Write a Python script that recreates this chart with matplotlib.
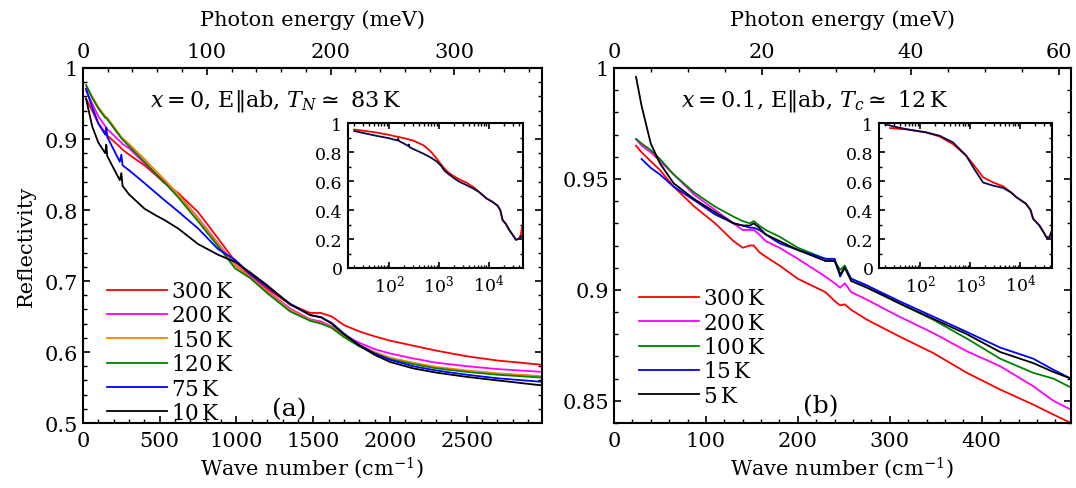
import matplotlib
matplotlib.use('Agg')
import matplotlib.pyplot as plt
from matplotlib.ticker import (MultipleLocator, FixedLocator, FuncFormatter,
                               LogLocator, NullFormatter)
import numpy as np

plt.rcParams.update({
    'font.family': 'DejaVu Serif',
    'mathtext.fontset': 'dejavuserif',
    'font.size': 15,
    'axes.linewidth': 1.5,
    'xtick.direction': 'in',
    'ytick.direction': 'in',
    'xtick.major.size': 5,
    'ytick.major.size': 5,
    'xtick.minor.size': 2.8,
    'ytick.minor.size': 2.8,
    'xtick.major.width': 1.2,
    'ytick.major.width': 1.2,
    'xtick.minor.width': 1.0,
    'ytick.minor.width': 1.0,
})

MEV = 8.0655  # cm^-1 per meV

# ---------------- panel (a): x = 0 ----------------
wn_a = [20, 60, 100, 145, 152, 158, 240, 250, 258, 300, 400, 470, 530, 620, 750,
        880, 990, 1090, 1200, 1350, 1480, 1550, 1620, 1700, 1800, 1900, 2000,
        2150, 2300, 2500, 2700, 2990]
r300_a = [0.957, 0.940, 0.922, 0.909, 0.907, 0.905, 0.889, 0.887, 0.885, 0.878,
          0.863, 0.850, 0.838, 0.824, 0.797, 0.760, 0.728, 0.708, 0.689, 0.667,
          0.655, 0.655, 0.650, 0.638, 0.629, 0.622, 0.616, 0.609, 0.602, 0.594,
          0.588, 0.582]
r200_a = [0.968, 0.950, 0.932, 0.918, 0.916, 0.914, 0.897, 0.895, 0.893, 0.887,
          0.866, 0.852, 0.840, 0.822, 0.789, 0.753, 0.723, 0.706, 0.686, 0.661,
          0.646, 0.643, 0.636, 0.624, 0.613, 0.604, 0.598, 0.591, 0.585, 0.580,
          0.576, 0.572]
r150_a = [0.976, 0.960, 0.945, 0.932, 0.931, 0.930, 0.906, 0.903, 0.901, 0.893,
          0.872, 0.856, 0.843, 0.822, 0.788, 0.752, 0.722, 0.705, 0.685, 0.659,
          0.645, 0.641, 0.635, 0.622, 0.610, 0.600, 0.592, 0.585, 0.579, 0.574,
          0.570, 0.566]
r120_a = [0.976, 0.958, 0.943, 0.930, 0.929, 0.928, 0.904, 0.901, 0.899, 0.890,
          0.868, 0.852, 0.839, 0.818, 0.784, 0.749, 0.718, 0.704, 0.683, 0.657,
          0.644, 0.640, 0.634, 0.621, 0.608, 0.598, 0.590, 0.583, 0.577, 0.572,
          0.568, 0.564]
r75_a = [0.971, 0.945, 0.922, 0.906, 0.916, 0.903, 0.868, 0.878, 0.863, 0.856,
         0.838, 0.825, 0.814, 0.798, 0.774, 0.745, 0.730, 0.710, 0.692, 0.668,
         0.652, 0.649, 0.641, 0.626, 0.610, 0.598, 0.589, 0.580, 0.574, 0.568,
         0.563, 0.558]
r10_a = [0.957, 0.918, 0.895, 0.880, 0.892, 0.876, 0.842, 0.852, 0.834, 0.822,
         0.802, 0.793, 0.786, 0.774, 0.752, 0.737, 0.727, 0.712, 0.694, 0.667,
         0.652, 0.649, 0.640, 0.625, 0.609, 0.596, 0.586, 0.577, 0.571, 0.565,
         0.560, 0.553]
labels_a = ['300$\\,$K', '200$\\,$K', '150$\\,$K', '120$\\,$K', '75$\\,$K', '10$\\,$K']
colors_a = ['#ff0000', '#ff00ff', '#ff8000', '#008000', '#0000ff', '#000000']

# inset (a): wide range, 300 K and 10 K
wn_in_a = [20, 50, 100, 145, 152, 158, 200, 240, 250, 258, 300, 500, 700, 900,
           1100, 1300, 1600, 2000, 2500, 3500, 5000, 6500, 9000, 12000, 15000,
           17000, 19000, 22000, 26000, 30000, 35000, 40000, 44000, 47000]
in300_a = [0.955, 0.937, 0.918, 0.905, 0.905, 0.903, 0.895, 0.889, 0.887, 0.885,
           0.880, 0.845, 0.800, 0.755, 0.715, 0.685, 0.655, 0.633, 0.613, 0.590,
           0.557, 0.522, 0.480, 0.455, 0.430, 0.400, 0.330, 0.305, 0.260, 0.230,
           0.195, 0.200, 0.230, 0.290]
in10_a = [0.945, 0.915, 0.895, 0.880, 0.892, 0.876, 0.858, 0.842, 0.852, 0.834,
          0.822, 0.787, 0.760, 0.735, 0.706, 0.670, 0.645, 0.620, 0.597, 0.573,
          0.546, 0.522, 0.480, 0.455, 0.430, 0.400, 0.330, 0.305, 0.260, 0.230,
          0.195, 0.200, 0.215, 0.220]

# ---------------- panel (b): x = 0.1 ----------------
wn_b = [24, 30, 40, 50, 65, 87, 110, 130, 140, 148, 152, 158, 165, 180, 200, 230,
        240, 246, 251, 258, 275, 310, 347, 384, 420, 456, 478, 497]
r300_b = [0.965, 0.962, 0.958, 0.954, 0.9465, 0.9377, 0.930, 0.922, 0.919, 0.920,
          0.920, 0.917, 0.915, 0.911, 0.905, 0.899, 0.895, 0.893, 0.8935, 0.891,
          0.8866, 0.8791, 0.8716, 0.8626, 0.8551, 0.8483, 0.8438, 0.840]
r200_b = [0.968, 0.965, 0.962, 0.958, 0.952, 0.943, 0.936, 0.930, 0.927, 0.927,
          0.927, 0.925, 0.922, 0.919, 0.914, 0.906, 0.903, 0.901, 0.903, 0.899,
          0.8956, 0.888, 0.8806, 0.8723, 0.8656, 0.8566, 0.850, 0.846]
r100_b = [0.968, 0.966, 0.963, 0.959, 0.952, 0.944, 0.9375, 0.933, 0.931, 0.930,
          0.931, 0.929, 0.927, 0.924, 0.919, 0.914, 0.913, 0.909, 0.911, 0.905,
          0.902, 0.894, 0.8866, 0.878, 0.869, 0.8626, 0.860, 0.856]
r15_b = [np.nan, 0.959, 0.955, 0.952, 0.9465, 0.9405, 0.934, 0.930, 0.929, 0.928,
         0.928, 0.927, 0.925, 0.921, 0.918, 0.914, 0.914, 0.906, 0.910, 0.905,
         0.902, 0.895, 0.888, 0.881, 0.874, 0.869, 0.864, 0.860]
r5_b = [0.996, 0.983, 0.966, 0.957, 0.948, 0.941, 0.935, 0.930, 0.929, 0.929,
        0.930, 0.928, 0.925, 0.922, 0.918, 0.913, 0.913, 0.907, 0.910, 0.904,
        0.901, 0.894, 0.887, 0.880, 0.872, 0.867, 0.863, 0.860]
labels_b = ['300$\\,$K', '200$\\,$K', '100$\\,$K', '15$\\,$K', '5$\\,$K']
colors_b = ['#ff0000', '#ff00ff', '#008000', '#0000ff', '#000000']

# inset (b)
wn_in_b = [20, 25, 30, 60, 130, 240, 450, 830, 1200, 1800, 2800, 4500, 6600, 8300,
           13000, 16000, 18000, 24000, 30000, 33000, 38000, 42000]
in300_b = [np.nan, 0.965, 0.963, 0.954, 0.935, 0.908, 0.855, 0.775, 0.706, 0.626,
           0.592, 0.564, 0.52, 0.489, 0.443, 0.40, 0.34, 0.294, 0.24, 0.213, 0.21, 0.25]
in5_b = [0.99, 0.983, 0.975, 0.954, 0.936, 0.913, 0.867, 0.775, 0.683, 0.59,
         0.569, 0.553, 0.52, 0.489, 0.443, 0.40, 0.34, 0.294, 0.24, 0.213, 0.21, 0.25]

fmt = FuncFormatter(lambda v, p: f'{v:g}')


def style_main(ax, xmax, ylo, xmaj, xmin, ymaj, ymin, emajor, emin):
    ax.set_xlim(0, xmax)
    ax.set_ylim(ylo, 1)
    ax.xaxis.set_major_locator(MultipleLocator(xmaj))
    ax.xaxis.set_minor_locator(MultipleLocator(xmin))
    ax.yaxis.set_major_locator(MultipleLocator(ymaj))
    ax.yaxis.set_minor_locator(MultipleLocator(ymin))
    ax.yaxis.set_major_formatter(fmt)
    ax.tick_params(which='both', right=True, top=False)
    ax.tick_params(axis='x', pad=6)
    ax.set_xlabel('Wave number (cm$^{-1}$)', labelpad=3)
    emax = xmax / MEV
    sec = ax.secondary_xaxis('top', functions=(lambda w: w / MEV, lambda e: e * MEV))
    sec.xaxis.set_major_locator(FixedLocator(np.arange(0, emax, emajor)))
    sec.xaxis.set_minor_locator(FixedLocator(np.arange(0, emax, emin)))
    sec.xaxis.set_major_formatter(fmt)
    sec.tick_params(which='both', direction='in')
    sec.tick_params(axis='x', pad=5)
    sec.spines['top'].set_linewidth(1.5)
    sec.set_xlabel('Photon energy (meV)', labelpad=12)


def style_inset(ax, xlo, xhi):
    ax.set_xscale('log')
    ax.set_xlim(xlo, xhi)
    ax.set_ylim(0, 1)
    ax.yaxis.set_major_locator(MultipleLocator(0.2))
    ax.yaxis.set_minor_locator(MultipleLocator(0.1))
    ax.yaxis.set_major_formatter(fmt)
    ax.xaxis.set_major_locator(LogLocator(base=10))
    ax.xaxis.set_minor_locator(LogLocator(base=10, subs=np.arange(2, 10)))
    ax.xaxis.set_minor_formatter(NullFormatter())
    ax.tick_params(which='both', top=True, right=True, labelsize=12.5, pad=4)
    ax.tick_params(which='major', length=4)
    ax.tick_params(which='minor', length=2.2)


fig = plt.figure(figsize=(10.76, 4.89), dpi=100)

ax_a = fig.add_axes([0.0771, 0.1329, 0.4266, 0.726])
for y, c, lab in zip([r300_a, r200_a, r150_a, r120_a, r75_a, r10_a], colors_a, labels_a):
    ax_a.plot(wn_a, y, color=c, lw=1.3, label=lab)
style_main(ax_a, 2990, 0.5, 500, 100, 0.1, 0.02, 100, 20)
ax_a.set_ylabel('Reflectivity', labelpad=6)
ax_a.text(0.42, 0.91, '$x = 0$, E$\\Vert$ab, $T_N \\simeq$ 83$\\,$K', fontsize=16,
          transform=ax_a.transAxes, ha='center', va='center')
ax_a.text(0.449, 0.04, '(a)', fontsize=18, transform=ax_a.transAxes,
          ha='center', va='center')
ax_a.legend(loc='center left', bbox_to_anchor=(0.052, 0.2), frameon=False,
            handlelength=2.8, handletextpad=0.2, labelspacing=0.11,
            borderpad=0, borderaxespad=0, fontsize=15.5)

ax_b = fig.add_axes([0.5706, 0.1329, 0.4247, 0.726])
for y, c, lab in zip([r300_b, r200_b, r100_b, r15_b, r5_b], colors_b, labels_b):
    ax_b.plot(wn_b, y, color=c, lw=1.3, label=lab)
style_main(ax_b, 497, 0.84, 100, 20, 0.05, 0.01, 20, 5)
ax_b.text(0.44, 0.91, '$x = 0.1$, E$\\Vert$ab, $T_c \\simeq$ 12$\\,$K', fontsize=16,
          transform=ax_b.transAxes, ha='center', va='center')
ax_b.text(0.453, 0.048, '(b)', fontsize=18, transform=ax_b.transAxes,
          ha='center', va='center')
ax_b.legend(loc='center left', bbox_to_anchor=(0.054, 0.214), frameon=False,
            handlelength=2.8, handletextpad=0.2, labelspacing=0.11,
            borderpad=0, borderaxespad=0, fontsize=15.5)

in_a = fig.add_axes([0.3234, 0.4499, 0.1626, 0.2965])
in_a.plot(wn_in_a, in300_a, color='#ff0000', lw=1.3)
in_a.plot(wn_in_a, in10_a, color='#0a0a4a', lw=1.3)
style_inset(in_a, 15, 48500)

in_b = fig.add_axes([0.8169, 0.4499, 0.1608, 0.2965])
in_b.plot(wn_in_b, in300_b, color='#ff0000', lw=1.3)
in_b.plot(wn_in_b, in5_b, color='#0a0a4a', lw=1.3)
style_inset(in_b, 15, 43000)

fig.savefig('out.png', dpi=100)
